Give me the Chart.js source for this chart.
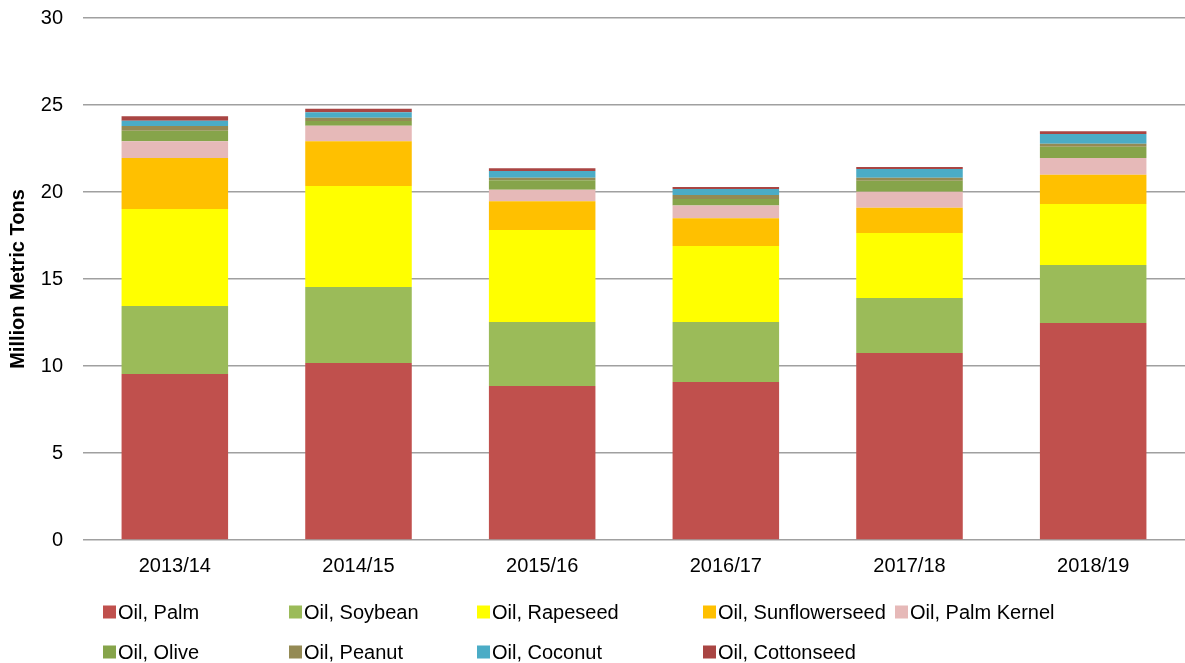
<!DOCTYPE html>
<html>
<head>
<meta charset="utf-8">
<script src="https://cdn.jsdelivr.net/npm/chart.js@4"></script>
<style>
  html, body { margin: 0; padding: 0; background: #fff; }
  #wrap { width: 1185px; height: 663px; position: relative; }
</style>
</head>
<body>
<div id="wrap"><canvas id="chartOil"></canvas></div>
<script>
const years = ['2013/14', '2014/15', '2015/16', '2016/17', '2017/18', '2018/19'];
const yTicks = [0, 5, 10, 15, 20, 25, 30];

const palm        = [9.54, 10.17, 8.85, 9.08, 10.75, 12.47];
const soybean     = [3.91, 4.37, 3.68, 3.45, 3.16, 3.33];
const rapeseed    = [5.57, 5.80, 5.29, 4.37, 3.73, 3.51];
const sunflower   = [2.93, 2.57, 1.65, 1.59, 1.46, 1.68];
const palmKernel  = [0.96, 0.90, 0.66, 0.74, 0.92, 0.96];
const olive       = [0.61, 0.27, 0.54, 0.37, 0.63, 0.65];
const peanut      = [0.27, 0.19, 0.15, 0.23, 0.17, 0.18];
const coconut     = [0.31, 0.31, 0.39, 0.34, 0.50, 0.55];
const cottonseed  = [0.25, 0.21, 0.15, 0.12, 0.12, 0.16];

const series = [
  ['Oil, Palm', palm, '#C0504D'],
  ['Oil, Soybean', soybean, '#9BBB59'],
  ['Oil, Rapeseed', rapeseed, '#FFFF00'],
  ['Oil, Sunflowerseed', sunflower, '#FFC000'],
  ['Oil, Palm Kernel', palmKernel, '#E6B9B8'],
  ['Oil, Olive', olive, '#86A44A'],
  ['Oil, Peanut', peanut, '#948A54'],
  ['Oil, Coconut', coconut, '#4BACC6'],
  ['Oil, Cottonseed', cottonseed, '#A94543']
];

const FONT = '"Liberation Sans", Arial, sans-serif';

// legend laid out like the Excel one: two rows, fixed column starts
const legendCols = [103, 289, 477, 703, 895];
const legendRows = [612, 652];

const legendPlugin = {
  id: 'excelLegend',
  afterDraw(chart) {
    const c = chart.ctx;
    c.save();
    c.font = '20px ' + FONT;
    c.textBaseline = 'middle';
    chart.data.datasets.forEach((ds, i) => {
      const row = i < 5 ? 0 : 1;
      const col = i < 5 ? i : i - 5;
      const x = legendCols[col];
      const y = legendRows[row];
      c.fillStyle = ds.backgroundColor;
      c.fillRect(x, y - 6.5, 13, 13);
      c.fillStyle = '#000';
      c.fillText(ds.label, x + 15, y + 1);
    });
    c.restore();
  }
};

const ctx = document.getElementById('chartOil');

new Chart(ctx, {
  type: 'bar',
  data: {
    labels: years,
    datasets: series.map(([label, data, color]) => ({
      label: label,
      data: data,
      backgroundColor: color,
      borderWidth: 0,
      categoryPercentage: 1,
      barPercentage: 0.58
    }))
  },
  plugins: [legendPlugin],
  options: {
    responsive: true,
    maintainAspectRatio: false,
    animation: false,
    layout: { padding: { top: 18, right: 0, bottom: 80, left: 0 } },
    plugins: {
      legend: { display: false },
      tooltip: { enabled: false }
    },
    scales: {
      x: {
        stacked: true,
        grid: { display: false, drawTicks: false },
        border: { display: false },
        ticks: { color: '#000', font: { family: FONT, size: 20 }, padding: 14 },
        afterFit(scale) { scale.height = 43; }
      },
      y: {
        stacked: true,
        min: 0,
        max: 30,
        afterBuildTicks(scale) { scale.ticks = yTicks.map(v => ({ value: v })); },
        grid: { color: '#A0A0A0', lineWidth: 1.5, drawTicks: false },
        border: { display: false },
        ticks: { color: '#000', font: { family: FONT, size: 20 }, padding: 20 },
        title: {
          display: true,
          text: 'Million Metric Tons',
          color: '#000',
          font: { family: FONT, size: 20, weight: 'bold' },
          padding: { top: 6, bottom: 0 }
        },
        afterFit(scale) {
          scale.width = 83;
          scale.paddingTop = 0;
          scale.paddingBottom = 0;
        }
      }
    }
  }
});
</script>
</body>
</html>
